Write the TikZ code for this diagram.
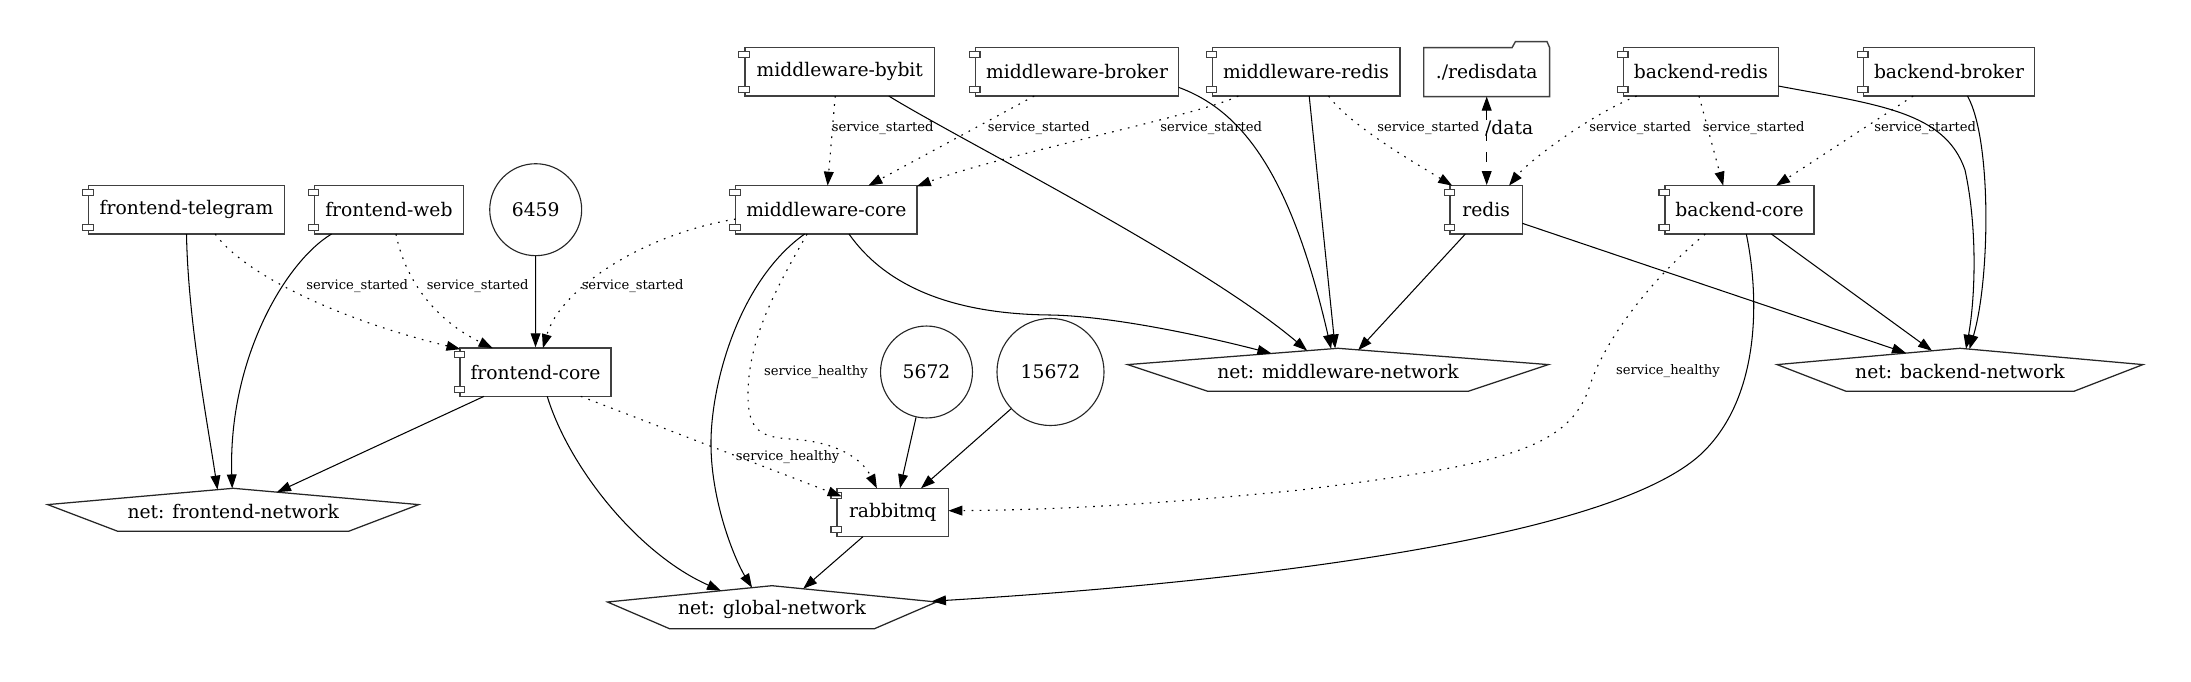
\documentclass[tikz,border=0pt]{standalone}
\usepackage{fontspec}
\setmainfont{DejaVu Serif}
\usetikzlibrary{arrows.meta,calc}
\tikzset{
  nfont/.style={font=\fontsize{13.4}{16}\selectfont},
  comp/.style={draw=black!75, line width=1pt, rectangle, inner sep=0pt, minimum height=34.6pt, nfont},
  port/.style={draw=black!85, line width=0.8pt, circle, inner sep=0pt, nfont},
  netnode/.style={inner sep=0pt, nfont},
  netline/.style={draw=black!85, line width=0.9pt},
  compmark/.style={draw=black!75, line width=0.8pt, fill=white},
  conn/.style={line width=0.75pt, -{Triangle[length=10pt,width=7pt]}},
  dep/.style={conn, line width=0.8pt, dash pattern=on 1.2pt off 4.6pt},
  vol/.style={line width=0.75pt, dash pattern=on 7pt off 8pt, {Triangle[length=10pt,width=7pt]}-{Triangle[length=10pt,width=7pt]}},
  elabel/.style={font=\fontsize{9.4}{11}\selectfont, inner sep=0pt},
}
\newcommand\netshape[3]{\draw[netline] ($(#1)+(0,-23.5)$) -- ($(#1)+(#2,-7.2)$) -- ($(#1)+(#3,19.5)$) -- ($(#1)+(-#3,19.5)$) -- ($(#1)+(-#2,-7.2)$) -- cycle;}
\begin{document}
\begin{tikzpicture}[x=0.7157pt, y=-0.7157pt]
\useasboundingbox (0,0) rectangle (2191,682);
% nodes
\node[comp, minimum width=140.3pt] (ft) at (186.5,209.85) {frontend-telegram};
\node[comp, minimum width=106.9pt] (fw) at (388.9,209.85) {frontend-web};
\node[port, minimum size=65.8pt] (p6459) at (535.7,209.7) {6459};
\node[comp, minimum width=107.9pt] (fc) at (535.5,372.15) {frontend-core};
\node[comp, minimum width=135.8pt] (mby) at (839.8,71.85) {middleware-bybit};
\node[comp, minimum width=145.4pt] (mbr) at (1077,71.85) {middleware-broker};
\node[comp, minimum width=134.4pt] (mre) at (1306.1,71.85) {middleware-redis};
\node[nfont, inner sep=0pt, minimum width=89.7pt, minimum height=34.6pt] (rd) at (1486.7,72.15) {./redisdata};
\node[comp, minimum width=110.9pt] (br) at (1700.9,71.85) {backend-redis};
\node[comp, minimum width=122.5pt] (bb) at (1949,71.85) {backend-broker};
\node[comp, minimum width=129.6pt] (mc) at (826.3,209.85) {middleware-core};
\node[comp, minimum width=51.7pt] (redis) at (1486.2,209.85) {redis};
\node[comp, minimum width=106.6pt] (bc) at (1739.5,209.85) {backend-core};
\node[port, minimum size=65.8pt] (p5672) at (926.5,372) {5672};
\node[port, minimum size=76.6pt] (p15672) at (1050.5,372) {15672};
\node[comp, minimum width=79.7pt] (rmq) at (892.7,512.5) {rabbitmq};
\node[netnode] (fnet) at (233.2,511.8) {net: frontend-network};
\node[netnode] (gnet) at (772,609.2) {net: global-network};
\node[netnode] (mnet) at (1338,371.8) {net: middleware-network};
\node[netnode] (bnet) at (1960,371.8) {net: backend-network};
% shapes
\netshape{fnet}{185.5}{115.4}
\netshape{gnet}{164.5}{102.5}
\netshape{mnet}{210.4}{130.3}
\netshape{bnet}{182.9}{113.9}
\draw[draw=black!75, line width=1pt] (rd.south west) -- (rd.north west) -- ($(rd.north east)+(-37.6,0)$) -- ($(rd.north east)+(-34.3,-6)$) -- ($(rd.north east)+(-2.6,-6)$) -- (rd.north east) -- (rd.south east) -- cycle;
\foreach \n in {ft,fw,fc,mby,mbr,mre,br,bb,mc,redis,bc,rmq}{
  \draw[compmark] ($(\n.north west)+(-3.8pt,-3.25pt)$) rectangle ++(7.6pt,-4.3pt);
  \draw[compmark] ($(\n.south west)+(-3.8pt,3.25pt)$) rectangle ++(7.6pt,4.3pt);
}
% edges
\draw[conn] ($(ft)+(0,24.2)$) .. controls (188,320) and (207,420) .. ($(fnet)+(-15.7,-22.2)$);
\draw[dep] ($(ft)+(28.7,24.2)$) .. controls (245,275) and (340,320) .. ($(fc)+(-75,-23)$);
\draw[conn] ($(fw)+(-57.4,24.2)$) .. controls (285,262) and (228,360) .. ($(fnet)+(-1,-23.4)$);
\draw[dep] ($(fw)+(7.1,24.2)$) .. controls (405,280) and (435,320) .. ($(fc)+(-42.8,-24)$);
\draw[conn] (p6459.south) -- (fc.north);
\draw[dep] ($(mc)+(-90.7,9.2)$) .. controls (640,235) and (560,290) .. ($(fc)+(7.4,-24)$);
\draw[conn] ($(fc)+(-51.5,24.2)$) -- ($(fnet)+(43.8,-19.6)$);
\draw[conn] ($(fc)+(11.7,24.2)$) .. controls (570,470) and (640,555) .. ($(gnet)+(-51,-18.5)$);
\draw[dep] ($(fc)+(45.3,24.2)$) -- ($(rmq)+(-51,-16)$);
\draw[dep] ($(mby)+(-4.6,24.2)$) -- ($(mc)+(1.3,-24.2)$);
\draw[conn] ($(mby)+(49,24.2)$) .. controls (960,140) and (1200,260) .. ($(mnet)+(-30.9,-21.2)$);
\draw[dep] ($(mbr)+(-42.8,24.2)$) -- ($(mc)+(42.1,-24.2)$);
\draw[conn] ($(mbr)+(101.6,15.5)$) .. controls (1240,110) and (1290,170) .. ($(mnet)+(-6.9,-23)$);
\draw[dep] ($(mre)+(-67.8,24.2)$) .. controls (1200,115) and (1000,155) .. ($(mc)+(90.5,-23.5)$);
\draw[conn] ($(mre)+(3.1,24.2)$) -- ($(mnet)+(-2.8,-23.4)$);
\draw[dep] ($(mre)+(22.5,24.2)$) .. controls (1350,125) and (1410,160) .. ($(redis)+(-34,-24.2)$);
\draw[vol] (rd.south) -- (rd.south |- redis.north);
\draw[dep] ($(br)+(-64.2,24.2)$) .. controls (1590,115) and (1530,160) .. ($(redis)+(22.8,-24.2)$);
\draw[dep] ($(br)+(-1.9,24.2)$) -- ($(bc)+(-16.3,-24.2)$);
\draw[conn] ($(br)+(77.5,14.2)$) .. controls (1880,105) and (1945,112) .. (1965,170) .. controls (1978,230) and (1975,300) .. ($(bnet)+(6,-23)$);
\draw[dep] ($(bb)+(-35.9,24.2)$) -- ($(bc)+(36.5,-24.2)$);
\draw[conn] ($(bb)+(18.5,24.2)$) .. controls (1992,140) and (1990,280) .. ($(bnet)+(9.5,-22.8)$);
\draw[conn] ($(mc)+(22.7,24.2)$) .. controls (885,285) and (950,314) .. (1050,315) .. controls (1110,316) and (1200,335) .. ($(mnet)+(-66.6,-18.4)$);
\draw[conn] ($(mc)+(-21.7,24.2)$) .. controls (740,280) and (712,380) .. (711,440) .. controls (710,500) and (735,560) .. ($(gnet)+(-20,-21.6)$);
\draw[dep] ($(mc)+(-19.2,24.2)$) .. controls (775,290) and (748,340) .. (748,395) .. controls (748,430) and (760,437) .. (790,439) .. controls (830,441) and (860,455) .. ($(rmq)+(-15.8,-24.2)$);
\draw[conn] ($(redis)+(-20.9,24.2)$) -- ($(mnet)+(20.2,-21.6)$);
\draw[conn] ($(redis)+(36.2,13.5)$) -- ($(bnet)+(-54,-18.8)$);
\draw[conn] ($(bc)+(31.9,24.2)$) -- ($(bnet)+(-28,-21)$);
\draw[conn] ($(bc)+(6.8,24.2)$) .. controls (1760,300) and (1760,400) .. (1700,455) .. controls (1600,545) and (1200,585) .. ($(gnet)+(160,-8)$);
\draw[dep] ($(bc)+(-34.3,24.2)$) .. controls (1650,280) and (1605,340) .. (1590,385) .. controls (1570,450) and (1500,465) .. (1300,490) .. controls (1150,505) and (1050,510) .. ($(rmq)+(55.7,-1.8)$);
\draw[conn] (p5672.257) -- ($(rmq)+(7.3,-24.2)$);
\draw[conn] (p15672.223) -- ($(rmq)+(28.3,-24.2)$);
\draw[conn] ($(rmq)+(-29.8,24.2)$) -- ($(gnet)+(31.2,-20.5)$);
% labels
\node[elabel] (l1) at (357.3,286) {service\_started};
\node[elabel] (l2) at (477.6,286) {service\_started};
\node[elabel] (l3) at (632.6,286) {service\_started};
\node[elabel] (l4) at (882.7,128.3) {service\_started};
\node[elabel] (l5) at (1038.8,128.3) {service\_started};
\node[elabel] (l6) at (1211.2,128.3) {service\_started};
\node[elabel] (l7) at (1428.3,128.3) {service\_started};
\node[elabel] (l8) at (1640.2,128.3) {service\_started};
\node[elabel] (l9) at (1753.6,128.3) {service\_started};
\node[elabel] (l10) at (1925.2,128.3) {service\_started};
\node[elabel] (l11) at (815.9,371.7) {service\_healthy};
\node[elabel] (l12) at (787.6,456.7) {service\_healthy};
\node[elabel] (l13) at (1667.9,371) {service\_healthy};
\node[nfont, inner sep=0pt] (l14) at (1509.2,128.3) {/data};
\end{tikzpicture}
\end{document}
